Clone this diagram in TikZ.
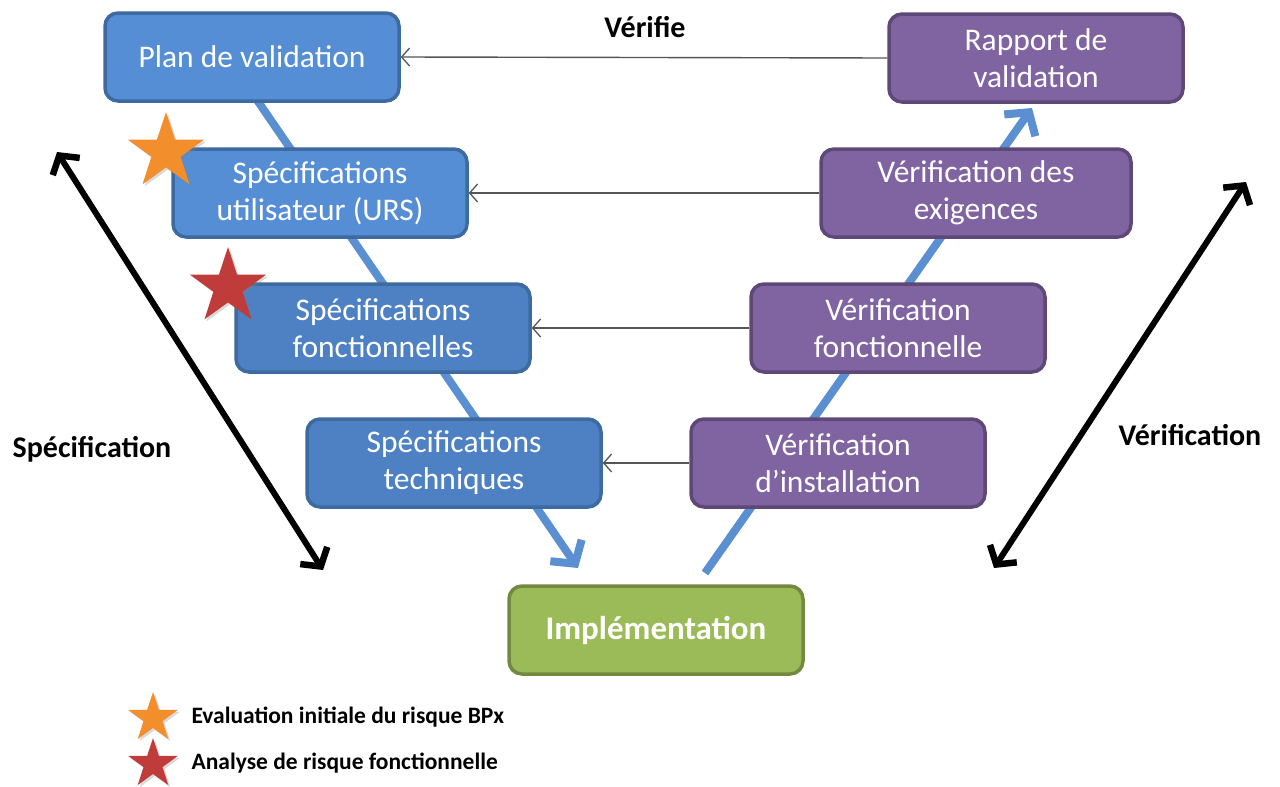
\documentclass[tikz,border=0pt]{standalone}
\usepackage{fontspec}
\setmainfont{Carlito}
\usetikzlibrary{arrows.meta,shapes.geometric,shadows}

\definecolor{bluefill}{HTML}{558ED5}
\definecolor{bluefilldk}{HTML}{4D81C3}
\definecolor{blueedge}{HTML}{3D6A9F}
\definecolor{purplefill}{HTML}{8064A2}
\definecolor{purpleedge}{HTML}{5E4878}
\definecolor{greenfill}{HTML}{9BBB59}
\definecolor{greenedge}{HTML}{72893F}
\definecolor{flowblue}{HTML}{5A8FD1}
\definecolor{starorange}{HTML}{F28F2C}
\definecolor{starred}{HTML}{C03C3A}
\definecolor{thinline}{HTML}{555555}

\tikzset{
  stagebox/.style={rounded corners=13pt, line width=3.5pt, minimum width=294pt,
    minimum height=88pt, align=center, text=white, inner sep=0pt,
    font=\fontsize{31.5}{37}\selectfont},
  specbox/.style={stagebox, fill=bluefill, draw=blueedge},
  specboxdk/.style={stagebox, fill=bluefilldk, draw=blueedge},
  verifbox/.style={stagebox, fill=purplefill, draw=purpleedge},
  implbox/.style={stagebox, fill=greenfill, draw=greenedge, font=\fontsize{33}{38}\selectfont\bfseries},
  flow/.style={line width=8pt, draw=flowblue,
    -{Straight Barb[length=16pt,width=38pt,line width=8pt]}},
  span/.style={line width=6pt, draw=black,
    {Straight Barb[length=13pt,width=32pt,line width=6.5pt]}-{Straight Barb[length=13pt,width=32pt,line width=6.5pt]}},
  check/.style={line width=1.4pt, draw=thinline,
    -{Straight Barb[length=8pt,width=18pt,line width=1.3pt]}},
  riskstar/.style={star, star points=5, star point ratio=2.6, inner sep=0pt,
    shape border rotate=0, drop shadow={opacity=0.3,shadow xshift=2pt,shadow yshift=-2pt}},
  sidelabel/.style={font=\fontsize{30}{34}\selectfont\bfseries, text=black},
  legendtext/.style={font=\fontsize{23.5}{27}\selectfont\bfseries, text=black, anchor=west},
}

\begin{document}
\begin{tikzpicture}[x=1pt,y=-1pt]
\useasboundingbox (0,0) rectangle (1280,787);

% the V-shaped flow behind the stages
\coordinate (flowtop) at (257,100);
\coordinate (flowdown) at (578,568);
\coordinate (flowup0) at (705,573);
\coordinate (flowup1) at (1032,108);
\draw[flow] (flowtop) -- (flowdown);
\draw[flow] (flowup0) -- (flowup1);

% specification branch
\node[specbox]   (plan) at (252,57)  {Plan de validation};
\node[specbox]   (urs)  at (320,193) {Spécifications\\utilisateur (URS)};
\node[specboxdk] (fs)   at (383,328) {Spécifications\\fonctionnelles};
\node[specboxdk] (ts)   at (454,463) {Spécifications\\techniques};

% implementation
\node[implbox] (impl) at (656,630) {Implémentation};

% verification branch
\node[verifbox] (iq)  at (838,463)  {Vérification\\d’installation};
\node[verifbox] (oq)  at (898,328)  {Vérification\\fonctionnelle};
\node[verifbox] (pq)  at (976,193)  [minimum width=310pt] {Vérification des\\exigences};
\node[verifbox] (rap) at (1036,58)  {Rapport de\\validation};

% verification links back to the specifications
\draw[check] (rap.west) -- (plan.east);
\draw[check] (pq.west)  -- (urs.east);
\draw[check] (oq.west)  -- (fs.east);
\draw[check] (iq.west)  -- (ts.east);
\node[sidelabel] (verifie) at (645,27) {Vérifie};

% side spans
\coordinate (specA) at (57,152);
\coordinate (specB) at (323,570);
\coordinate (verA) at (1246,182);
\coordinate (verB) at (994,568);
\draw[span] (specA) -- (specB);
\draw[span] (verB) -- (verA);
\node[sidelabel] (speclabel) at (92,449) {Spécification};
\node[sidelabel] (verlabel) at (1190,435) {Vérification};

% risk markers
\node[riskstar, fill=starorange, minimum size=80pt] (s1) at (166,152) {};
\node[riskstar, fill=starred, minimum size=80pt] (s2) at (228,287) {};

% legend
\node[riskstar, fill=starorange, minimum size=52pt] (l1) at (153,718) {};
\node[riskstar, fill=starred, minimum size=52pt] (l2) at (153,764) {};
\node[legendtext] (t1) at (188,717) {Evaluation initiale du risque BPx};
\node[legendtext] (t2) at (188,763) {Analyse de risque fonctionnelle};
\end{tikzpicture}
\end{document}
